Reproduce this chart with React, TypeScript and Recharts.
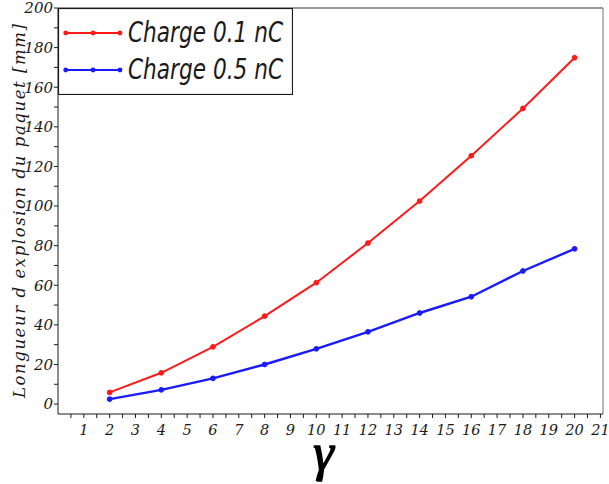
import {
  Legend,
  Line,
  LineChart,
  ReferenceLine,
  XAxis,
  YAxis,
} from "recharts";

// ─── Données ──────────────────────────────────────────────────────────────────
const GAMMA = [2, 4, 6, 8, 10, 12, 14, 16, 18, 20];
const CHARGE_01 = [5.9, 15.8, 28.9, 44.4, 61.3, 81.3, 102.5, 125.4, 149.3, 174.9];
const CHARGE_05 = [2.5, 7.2, 13, 20, 27.9, 36.5, 46, 54.2, 67.2, 78.4];

const X_LABELS = [1, 2, 3, 4, 5, 6, 7, 8, 9, 10, 11, 12, 13, 14, 15, 16, 17, 18, 19, 20, 21];
const Y_LABELS = [0, 20, 40, 60, 80, 100, 120, 140, 160, 180, 200];

// ticks mineurs : demi-unités en x, dizaines en y
const X_TICKS = X_LABELS.flatMap((v) => [v - 0.5, v]);
const Y_TICKS = Y_LABELS.flatMap((v) => (v === 0 ? [v] : [v - 10, v]));

const COLORS = {
  low: "#ff1a1a",
  high: "#1a1aff",
  ink: "#1a1a1a",
} as const;

const SERIF = "'DejaVu Serif', serif";

const chartData = GAMMA.map((g, i) => ({
  gamma: g,
  q01: CHARGE_01[i],
  q05: CHARGE_05[i],
}));

// ─── Légende encadrée ─────────────────────────────────────────────────────────
function ChargeLegend({ payload }: any) {
  const items = (payload ?? []) as { value: string; color: string }[];
  return (
    <div style={{ width: 235, height: 87, background: "#fff" }}>
      <svg width={235} height={87}>
        <rect x={0.5} y={0.5} width={234} height={86} fill="#fff" stroke={COLORS.ink} strokeWidth={1.2} />
        {items.map((it, i) => {
          const y = 25 + i * 37;
          return (
            <g key={it.value}>
              <line x1={7.7} x2={62} y1={y} y2={y} stroke={it.color} strokeWidth={2.2} />
              {[7.7, 35, 62].map((cx) => (
                <circle key={cx} cx={cx} cy={y} r={2.4} fill={it.color} />
              ))}
              <text
                x={70}
                y={y + 9}
                textLength={155}
                lengthAdjust="spacingAndGlyphs"
                fontFamily="'DejaVu Sans', sans-serif"
                fontStyle="italic"
                fontSize={28}
                fill={COLORS.ink}
              >
                {it.value}
              </text>
            </g>
          );
        })}
      </svg>
    </div>
  );
}

// ─── Graduations ──────────────────────────────────────────────────────────────
function XTick({ x, y, payload }: any) {
  if (!Number.isInteger(payload.value)) return null;
  return (
    <text
      x={x}
      y={y}
      dy="0.71em"
      textAnchor="middle"
      fontFamily={SERIF}
      fontStyle="italic"
      fontSize={14.5}
      fill={COLORS.ink}
    >
      {payload.value}
    </text>
  );
}

function YTick({ x, y, payload }: any) {
  if (payload.value % 20 !== 0) return null;
  return (
    <text
      x={x}
      y={y}
      dy="0.36em"
      textAnchor="end"
      fontFamily={SERIF}
      fontStyle="italic"
      fontSize={15}
      fill={COLORS.ink}
    >
      {payload.value}
    </text>
  );
}

// ─── Titres d'axes ────────────────────────────────────────────────────────────
function YTitle({ viewBox }: any) {
  const cy = viewBox.y + viewBox.height / 2;
  const cx = 25;
  return (
    <text
      x={cx}
      y={cy}
      transform={`rotate(-90, ${cx}, ${cy})`}
      textAnchor="middle"
      textLength={374}
      lengthAdjust="spacing"
      fontFamily={SERIF}
      fontStyle="italic"
      fontSize={16.5}
      fill={COLORS.ink}
    >
      Longueur d explosion du paquet [mm]
    </text>
  );
}

function XTitle({ viewBox }: any) {
  return (
    <text
      x={viewBox.x + viewBox.width / 2 - 7}
      y={viewBox.y + 56}
      textAnchor="middle"
      fontFamily="'Liberation Serif', serif"
      fontStyle="italic"
      fontSize={52}
      fill="#000"
      stroke="#000"
      strokeWidth={1.4}
    >
      γ
    </text>
  );
}

export default function App() {
  return (
    <div style={{ position: "absolute", left: 0, top: 0, background: "#fff" }}>
      <LineChart
        width={609}
        height={484}
        data={chartData}
        margin={{ top: 8, right: 6, bottom: 0, left: 0 }}
      >
        <XAxis
          dataKey="gamma"
          type="number"
          domain={[0, 21.1]}
          ticks={X_TICKS}
          interval={0}
          allowDataOverflow
          height={70}
          tickSize={4}
          tickMargin={7}
          stroke={COLORS.ink}
          tick={<XTick />}
          label={{ content: <XTitle /> }}
        />
        <YAxis
          type="number"
          domain={[-5, 200]}
          ticks={Y_TICKS}
          interval={0}
          allowDataOverflow
          width={58}
          tickSize={4}
          tickMargin={1}
          stroke={COLORS.ink}
          tick={<YTick />}
          label={{ content: <YTitle /> }}
        />

        {/* ── cadre haut / droit ── */}
        <ReferenceLine y={200} stroke="#333" strokeWidth={1.2} />
        <ReferenceLine x={21.1} stroke="#888" strokeWidth={1.2} />

        <Line
          type="linear"
          dataKey="q01"
          name="Charge 0.1 nC"
          stroke={COLORS.low}
          strokeWidth={2}
          dot={{ r: 2.4, fill: COLORS.low, stroke: COLORS.low, strokeWidth: 1 }}
          isAnimationActive={false}
        />
        <Line
          type="linear"
          dataKey="q05"
          name="Charge 0.5 nC"
          stroke={COLORS.high}
          strokeWidth={2.4}
          dot={{ r: 2.4, fill: COLORS.high, stroke: COLORS.high, strokeWidth: 1 }}
          isAnimationActive={false}
        />

        <Legend
          layout="vertical"
          align="center"
          verticalAlign="middle"
          content={<ChargeLegend />}
          wrapperStyle={{ left: 58, top: 8, width: 235, height: 87 }}
        />
      </LineChart>
    </div>
  );
}
